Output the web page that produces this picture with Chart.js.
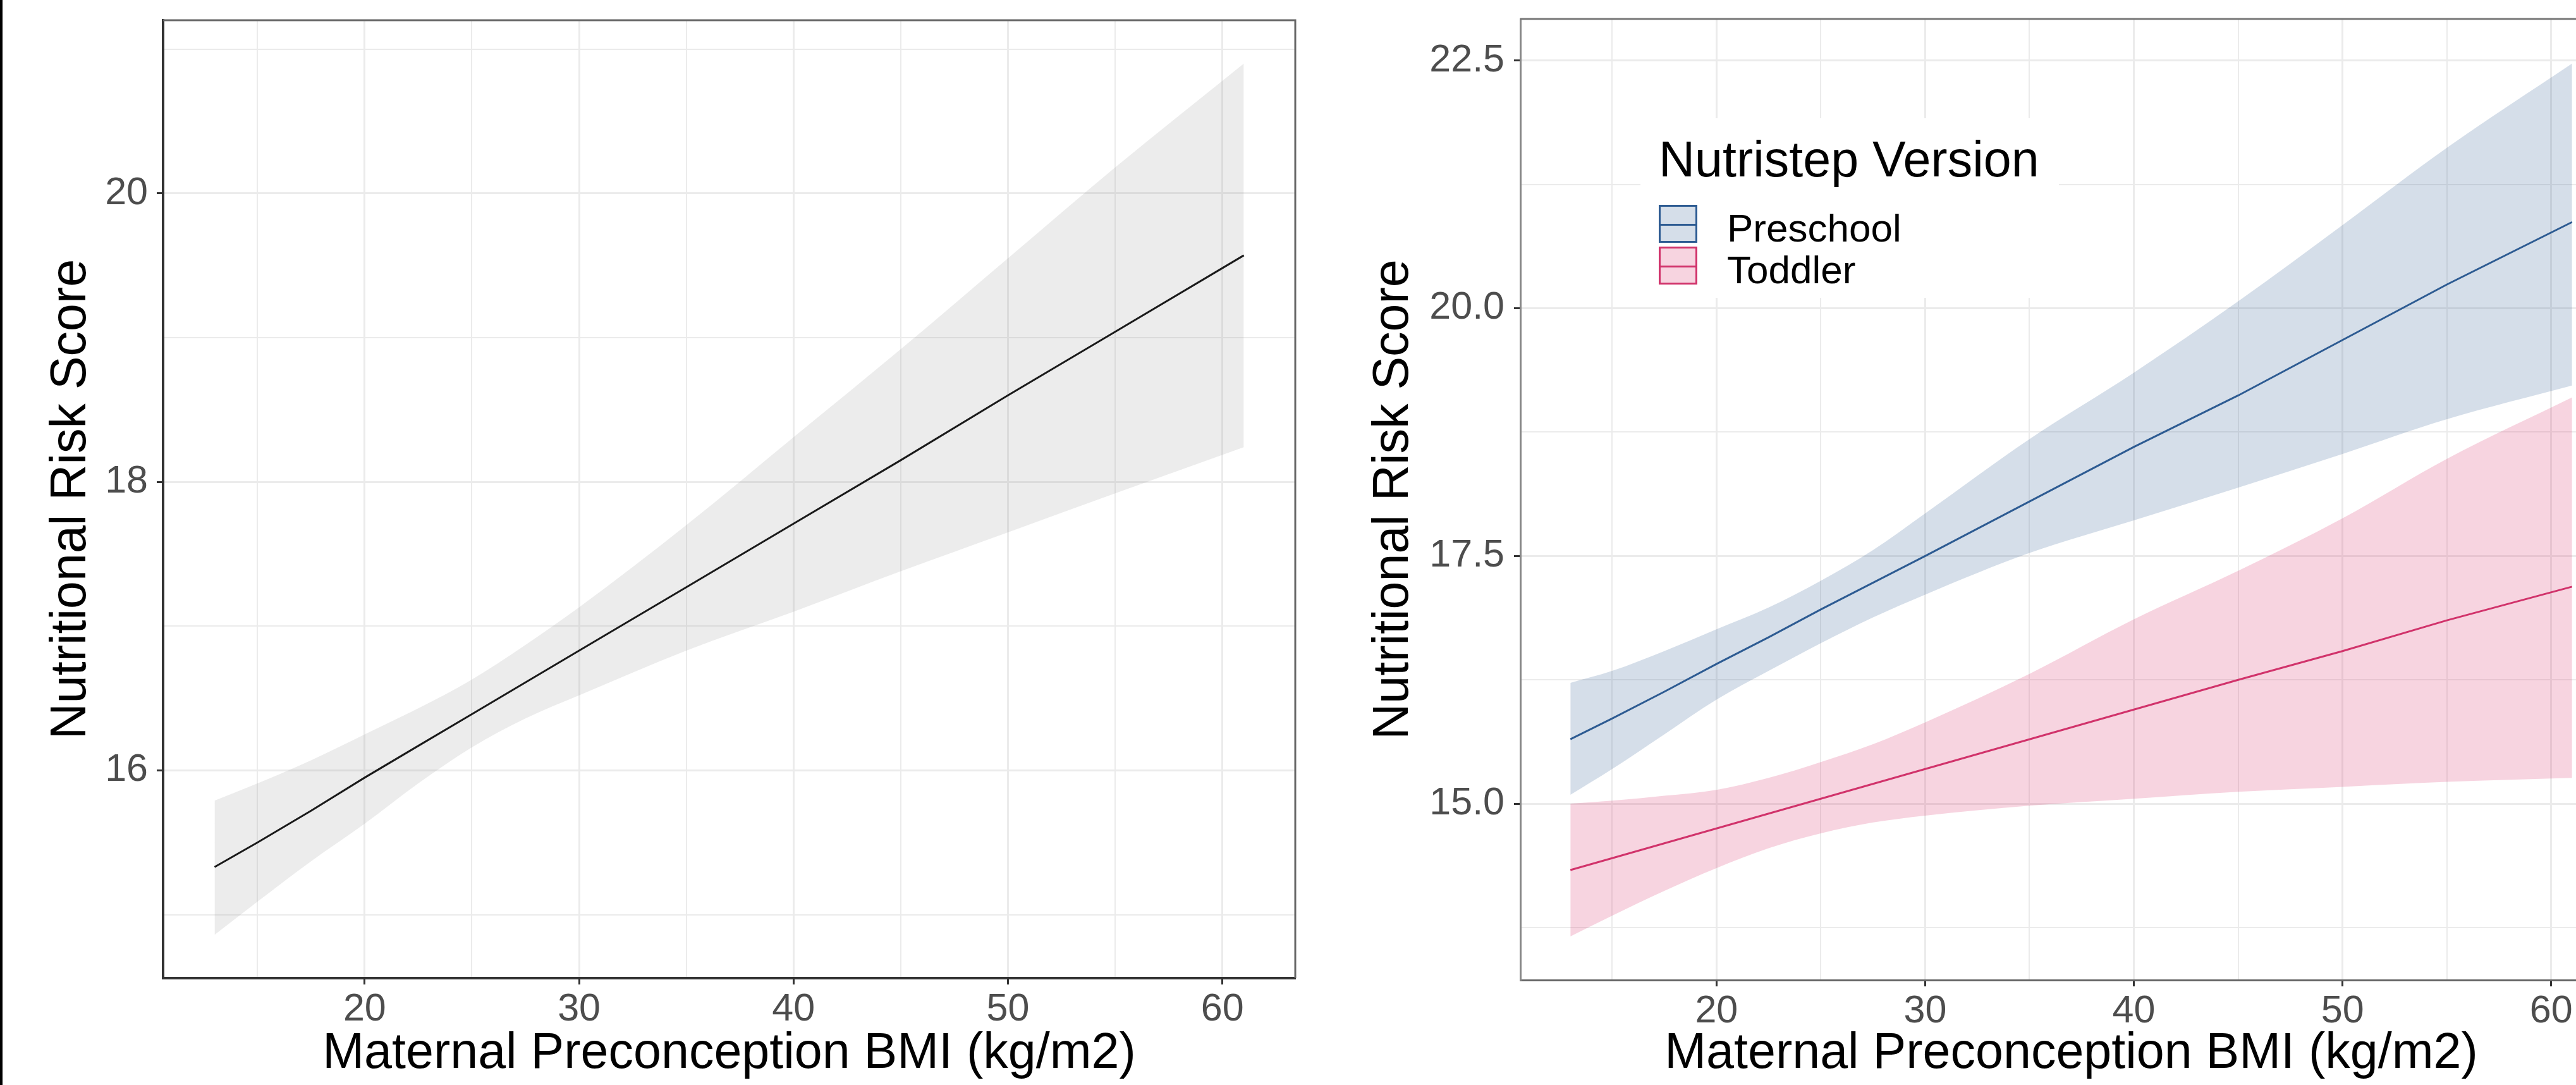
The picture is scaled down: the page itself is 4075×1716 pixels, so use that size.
<!DOCTYPE html>
<html>
<head>
<meta charset="utf-8">
<script src="https://cdn.jsdelivr.net/npm/chart.js@4.4.1/dist/chart.umd.min.js"></script>
<style>
  html, body { margin: 0; padding: 0; background: #fff; overflow: hidden; }
  body { width: 4075px; height: 1716px; position: relative; font-family: "Liberation Sans", Arial, sans-serif; }
  canvas { position: absolute; top: 0; }
  #edge { position: absolute; left: 0; top: 0; width: 4px; height: 1716px; background: #000; }
  #legend { position: absolute; left: 2595px; top: 187px; width: 662px; height: 284px; background: #fff; }
  #legend .ttl { position: absolute; left: 29px; top: 25px; font-size: 79px; line-height: 79px; color: #000; white-space: nowrap; }
  #legend .key { position: absolute; left: 29px; width: 61px; height: 60px; box-sizing: border-box; border: 3px solid; }
  #legend .key i { position: absolute; left: 0; right: 0; top: 27px; height: 3px; }
  #legend .lab { position: absolute; left: 137px; font-size: 62px; line-height: 62px; color: #000; white-space: nowrap; }
</style>
</head>
<body>
<canvas id="chartAll" width="2100" height="1716" style="left:0"></canvas>
<canvas id="chartVersion" width="2100" height="1716" style="left:2100px"></canvas>
<div id="edge"></div>
<div id="legend"></div>
<script>
// maternal BMI values where the fitted lines / bands were read
const bmi = [13.0, 15, 17.5, 20, 22.5, 25, 27.5, 30, 35, 40, 45, 50, 55, 61.0];

// left panel: all children
const allFit   = [15.33, 15.50, 15.72, 15.95, 16.17, 16.39, 16.61, 16.83, 17.27, 17.71, 18.15, 18.60, 19.04, 19.57];
const allUpper = [15.79, 15.91, 16.07, 16.25, 16.43, 16.63, 16.87, 17.13, 17.70, 18.31, 18.92, 19.55, 20.18, 20.90];
const allLower = [14.86, 15.09, 15.37, 15.63, 15.91, 16.16, 16.36, 16.52, 16.83, 17.10, 17.38, 17.65, 17.92, 18.24];

// right panel: by Nutristep version
const versionNames = ['Preschool', 'Toddler'];
const preFit   = [15.65, 15.86, 16.13, 16.41, 16.68, 16.96, 17.23, 17.50, 18.05, 18.60, 19.12, 19.68, 20.24, 20.87];
const preUpper = [16.22, 16.34, 16.54, 16.76, 16.98, 17.25, 17.56, 17.93, 18.68, 19.35, 20.07, 20.84, 21.62, 22.47];
const preLower = [15.09, 15.35, 15.70, 16.05, 16.34, 16.62, 16.88, 17.11, 17.53, 17.86, 18.19, 18.53, 18.88, 19.22];
const todFit   = [14.33, 14.45, 14.60, 14.75, 14.90, 15.05, 15.20, 15.35, 15.65, 15.95, 16.25, 16.54, 16.85, 17.19];
const todUpper = [15.00, 15.03, 15.08, 15.14, 15.26, 15.42, 15.60, 15.82, 16.31, 16.86, 17.35, 17.88, 18.48, 19.10];
const todLower = [13.66, 13.87, 14.12, 14.35, 14.55, 14.70, 14.81, 14.88, 14.98, 15.05, 15.12, 15.17, 15.22, 15.26];

// axes
const xGrid = [15, 20, 25, 30, 35, 40, 45, 50, 55, 60];
const xLabels = [20, 30, 40, 50, 60];
const yGridAll = [15, 16, 17, 18, 19, 20, 21];
const yLabelsAll = [16, 18, 20];
const yGridVer = [13.75, 15, 16.25, 17.5, 18.75, 20, 21.25, 22.5];
const yLabelsVer = [15, 17.5, 20, 22.5];

const lineColors = ['#2d5b92', '#d1336b'];
const bandColors = ['rgba(45,91,146,0.2)', 'rgba(220,60,115,0.22)'];

const FONT = 'Liberation Sans';
const xTitle = 'Maternal Preconception BMI (kg/m2)';
const yTitle = 'Nutritional Risk Score';

function pts(ys) {
  return bmi.map((x, i) => ({ x: x, y: ys[i] }));
}

function lineSet(ys, color) {
  return { data: pts(ys), borderColor: color, borderWidth: 3, pointRadius: 0, fill: false, tension: 0 };
}

// band edges are smoothed a little, the ribbon in the original is curved
function bandSets(lower, upper, color) {
  return [
    { data: pts(lower), borderWidth: 0, pointRadius: 0, fill: false, cubicInterpolationMode: 'monotone' },
    { data: pts(upper), borderWidth: 0, pointRadius: 0, fill: '-1', backgroundColor: color, cubicInterpolationMode: 'monotone' },
  ];
}

const framePlugin = {
  id: 'frame',
  afterDraw(chart, args, opts) {
    const { ctx, chartArea: a } = chart;
    ctx.save();
    ctx.strokeStyle = opts.color;
    ctx.lineWidth = opts.width;
    ctx.beginPath();
    ctx.moveTo(a.left, a.top);
    ctx.lineTo(a.right, a.top);
    ctx.lineTo(a.right, a.bottom);
    ctx.stroke();
    ctx.restore();
  }
};

function makeOptions(p) {
  return {
    responsive: false,
    animation: false,
    devicePixelRatio: 1,
    layout: { padding: { left: 0, right: p.padRight, top: p.padTop, bottom: 0 } },
    plugins: {
      legend: { display: false },
      tooltip: { enabled: false },
      frame: { color: p.frameColor, width: 3 },
    },
    scales: {
      x: {
        type: 'linear',
        min: 10.6,
        max: 63.4,
        afterBuildTicks: s => { s.ticks = xGrid.map(v => ({ value: v })); },
        afterFit: s => { s.height = 1716 - p.bottom; s.paddingLeft = 0; s.paddingRight = 0; },
        ticks: {
          autoSkip: false,
          maxRotation: 0,
          padding: 4,
          color: '#4d4d4d',
          font: { family: FONT, size: 61 },
          callback: v => xLabels.includes(v) ? String(v) : '',
        },
        grid: {
          color: '#ebebeb',
          lineWidth: c => xLabels.includes(c.tick.value) ? 3 : 2,
          tickLength: 10,
          tickWidth: 3,
          tickColor: c => xLabels.includes(c.tick.value) ? '#333' : 'rgba(0,0,0,0)',
        },
        border: { color: p.xBorder, width: p.xBorderWidth },
        title: { display: true, text: xTitle, color: '#000', font: { family: FONT, size: 79 }, padding: { top: 0, bottom: 1 } },
      },
      y: {
        type: 'linear',
        min: p.yMin,
        max: p.yMax,
        afterBuildTicks: s => { s.ticks = p.yGrid.map(v => ({ value: v })); },
        afterFit: s => { s.width = p.yWidth; s.paddingTop = 0; s.paddingBottom = 0; },
        ticks: {
          autoSkip: false,
          padding: p.yTickPad,
          color: '#4d4d4d',
          font: { family: FONT, size: 61 },
          callback: v => p.yLabels.includes(v) ? p.fmt(v) : '',
        },
        grid: {
          color: '#ebebeb',
          lineWidth: c => p.yLabels.includes(c.tick.value) ? 3 : 2,
          tickLength: 10,
          tickWidth: 3,
          tickColor: c => p.yLabels.includes(c.tick.value) ? '#333' : 'rgba(0,0,0,0)',
        },
        border: { color: p.yBorder, width: p.yBorderWidth },
        title: { display: true, text: yTitle, color: '#000', font: { family: FONT, size: 79 }, padding: { top: p.yTitlePad, bottom: 0 } },
      },
    },
  };
}

new Chart('chartAll', {
  type: 'line',
  data: {
    datasets: [
      lineSet(allFit, '#1a1a1a'),
      ...bandSets(allLower, allUpper, 'rgba(153,153,153,0.19)'),
    ],
  },
  options: makeOptions({
    padRight: 51, padTop: 32, bottom: 1547,
    yMin: 14.56, yMax: 21.2, yGrid: yGridAll, yLabels: yLabelsAll, fmt: v => String(v),
    yWidth: 258, yTickPad: 14, yTitlePad: 66,
    frameColor: '#666', xBorder: '#333', xBorderWidth: 4, yBorder: '#333', yBorderWidth: 4,
  }),
  plugins: [framePlugin],
});

new Chart('chartVersion', {
  type: 'line',
  data: {
    datasets: [
      lineSet(preFit, lineColors[0]),
      lineSet(todFit, lineColors[1]),
      ...bandSets(preLower, preUpper, bandColors[0]),
      ...bandSets(todLower, todUpper, bandColors[1]),
    ],
  },
  options: makeOptions({
    padRight: 52, padTop: 30, bottom: 1550,
    yMin: 13.22, yMax: 22.92, yGrid: yGridVer, yLabels: yLabelsVer, fmt: v => v.toFixed(1),
    yWidth: 305, yTickPad: 15, yTitlePad: 58,
    frameColor: '#777', xBorder: '#666', xBorderWidth: 3, yBorder: '#888', yBorderWidth: 3,
  }),
  plugins: [framePlugin],
});

// legend for the version panel
const legend = document.getElementById('legend');
let html = '<div class="ttl">Nutristep Version</div>';
versionNames.forEach((name, i) => {
  const top = 137 + i * 66;
  html += '<div class="key" style="top:' + top + 'px;border-color:' + lineColors[i] + ';background:' + bandColors[i] + '">' +
          '<i style="background:' + lineColors[i] + '"></i></div>';
  html += '<div class="lab" style="top:' + (top + 6) + 'px">' + name + '</div>';
});
legend.innerHTML = html;
</script>
</body>
</html>
